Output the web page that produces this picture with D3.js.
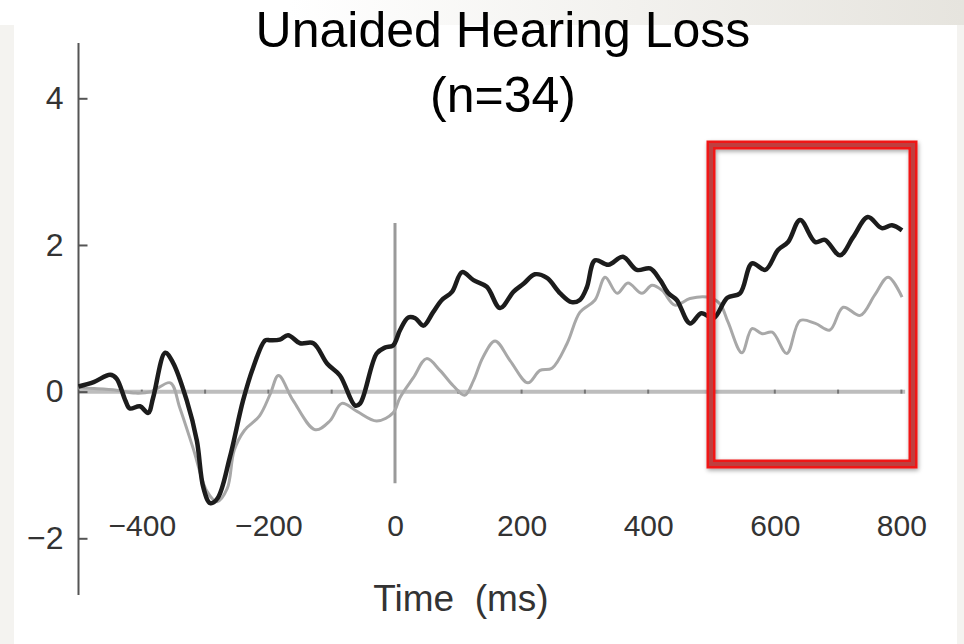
<!DOCTYPE html>
<html>
<head>
<meta charset="utf-8">
<script src="https://cdn.jsdelivr.net/npm/d3@7"></script>
<style>
  html, body { margin: 0; padding: 0; background: #fff; }
  svg { display: block; }
  text { font-family: "Liberation Sans", Arial, Helvetica, sans-serif; }
</style>
</head>
<body>
<svg id="chart" width="964" height="644"></svg>
<script>
// ---------- data ----------
const titleLines = ["Unaided Hearing Loss", "(n=34)"];
const xLabel = "Time  (ms)";
const xTickValues = [-400, -200, 0, 200, 400, 600, 800];
const xMinorTicks = [-400, -300, -200, -100, 0, 100, 200, 300, 400, 500, 600, 700, 800];
const yTickValues = [-2, 0, 2, 4];

// black (thick) waveform: time (ms) and amplitude
const blackTimes = [-500,-476,-450,-440,-426,-419,-403,-390,-382,-363,-351,-329,-313,-303,-292,-280,-261,-240,-224,-205,-197,-182,-169,-150,-129,-107,-87,-63,-55,-29,-16,-3,8,21,32,45,60,74,90,106,124,145,166,187,203,221,240,261,279,292,303,316,337,360,382,403,419,432,445,466,484,503,525,545,564,585,605,621,640,664,679,703,724,747,769,785,801];
const blackValues = [0.07,0.13,0.23,0.18,-0.12,-0.23,-0.2,-0.29,-0.08,0.53,0.40,-0.12,-0.67,-1.3,-1.52,-1.45,-0.9,-0.12,0.33,0.70,0.70,0.71,0.77,0.66,0.66,0.38,0.22,-0.19,-0.16,0.52,0.60,0.63,0.84,1.01,1.0,0.9,1.08,1.25,1.36,1.63,1.52,1.43,1.14,1.36,1.47,1.60,1.55,1.34,1.22,1.25,1.42,1.79,1.73,1.84,1.66,1.68,1.52,1.34,1.25,0.93,1.07,1.0,1.28,1.34,1.75,1.66,1.93,2.04,2.34,2.04,2.07,1.86,2.11,2.38,2.23,2.27,2.2];

// gray (thin) waveform
const grayTimes = [-500,-470,-440,-410,-385,-355,-340,-319,-297,-281,-265,-254,-238,-214,-197,-184,-161,-126,-103,-84,-60,-29,-3,8,29,50,71,92,110,124,139,158,182,210,229,248,272,292,316,332,351,368,390,406,422,442,466,493,513,526,548,564,580,596,619,640,664,687,708,735,758,779,801];
const grayValues = [0.05,0.04,0.02,-0.02,0.0,0.12,-0.22,-0.77,-1.36,-1.5,-1.32,-0.8,-0.53,-0.33,-0.03,0.22,-0.12,-0.52,-0.40,-0.16,-0.27,-0.4,-0.29,-0.08,0.19,0.45,0.29,0.08,-0.05,0.15,0.47,0.69,0.42,0.12,0.29,0.32,0.66,1.08,1.25,1.56,1.34,1.48,1.34,1.45,1.38,1.18,1.27,1.29,1.2,0.95,0.53,0.86,0.79,0.81,0.52,0.97,0.93,0.84,1.15,1.04,1.32,1.56,1.29];

// highlighted window (ms / amplitude)
const highlightWindow = [500, 830];

// ---------- drawing ----------
const svg = d3.select("#chart");
const W = 964, H = 644;

// slide background
const defs = svg.append("defs");
const grad = defs.append("linearGradient").attr("id", "topband").attr("x1", "0").attr("x2", "1");
grad.append("stop").attr("offset", "0.3").attr("stop-color", "#ffffff");
grad.append("stop").attr("offset", "1").attr("stop-color", "#e6e4de");
const shadow = defs.append("filter").attr("id", "shadow").attr("x", "-10%").attr("y", "-10%").attr("width", "120%").attr("height", "120%");
shadow.append("feDropShadow").attr("dx", 1).attr("dy", 2).attr("stdDeviation", 2).attr("flood-color", "#000").attr("flood-opacity", 0.35);

svg.append("rect").attr("x", 0).attr("y", 0).attr("width", W).attr("height", H).attr("fill", "#f4f3f0");
svg.append("rect").attr("x", 0).attr("y", 0).attr("width", W).attr("height", 25).attr("fill", "url(#topband)");
svg.append("rect").attr("x", 14).attr("y", 25).attr("width", 943).attr("height", H - 25).attr("fill", "#ffffff");

const x = d3.scaleLinear().domain([-500, 800]).range([78.5, 901.4]);
const y = d3.scaleLinear().domain([-2, 4]).range([538.3, 98.3]);

// title
svg.append("text").attr("x", 503).attr("y", 47).attr("text-anchor", "middle")
  .attr("font-size", 50).attr("fill", "#000").text(titleLines[0]);
svg.append("text").attr("x", 503).attr("y", 112).attr("text-anchor", "middle")
  .attr("font-size", 50).attr("fill", "#000").text(titleLines[1]);

// zero line (x axis)
svg.append("line")
  .attr("x1", x(-500)).attr("x2", x(806))
  .attr("y1", y(0)).attr("y2", y(0))
  .attr("stroke", "#bdbdbd").attr("stroke-width", 4);
svg.append("g").selectAll("line").data(xMinorTicks).join("line")
  .attr("x1", d => x(d)).attr("x2", d => x(d))
  .attr("y1", y(0) - 2).attr("y2", y(0) + 2)
  .attr("stroke", "#777").attr("stroke-width", 2);

// vertical line at time 0
svg.append("line")
  .attr("x1", x(0)).attr("x2", x(0))
  .attr("y1", y(2.3)).attr("y2", y(-1.25))
  .attr("stroke", "#9a9a9a").attr("stroke-width", 3);

// y axis
svg.append("line")
  .attr("x1", x(-500)).attr("x2", x(-500))
  .attr("y1", 43).attr("y2", 595)
  .attr("stroke", "#555").attr("stroke-width", 2);
const yAxis = d3.axisLeft(y).tickValues(yTickValues).tickSizeInner(-9).tickSizeOuter(0).tickPadding(15)
  .tickFormat(d => d < 0 ? "\u2212" + Math.abs(d) : d);
const gy = svg.append("g").attr("transform", `translate(${x(-500)},0)`).call(yAxis);
gy.select(".domain").remove();
gy.selectAll(".tick line").attr("stroke", "#555").attr("stroke-width", 2);
gy.selectAll(".tick text").attr("font-size", 32).attr("fill", "#333")
  .attr("font-family", "'Liberation Sans', Arial, sans-serif");

// x tick labels (placed near bottom, as in the original figure)
const xAxis = d3.axisBottom(x).tickValues(xTickValues).tickSize(0).tickPadding(0)
  .tickFormat(d => d < 0 ? "\u2212" + Math.abs(d) : d);
const gx = svg.append("g").attr("transform", "translate(0,515)").call(xAxis);
gx.select(".domain").remove();
gx.selectAll(".tick text").attr("font-size", 30).attr("fill", "#333")
  .attr("font-family", "'Liberation Sans', Arial, sans-serif");

// x axis title
svg.append("text").attr("x", 461).attr("y", 611).attr("text-anchor", "middle")
  .attr("font-size", 37).attr("fill", "#333").attr("xml:space", "preserve")
  .style("white-space", "pre").text(xLabel);

// waveforms
const line = d3.line().x(d => x(d[0])).y(d => y(d[1])).curve(d3.curveCatmullRom.alpha(0.5));
const grayData = grayTimes.map((t, i) => [t, grayValues[i]]);
const blackData = blackTimes.map((t, i) => [t, blackValues[i]]);

svg.append("path").datum(grayData).attr("d", line)
  .attr("fill", "none").attr("stroke", "#a8a8a8").attr("stroke-width", 3)
  .attr("stroke-linejoin", "round");
svg.append("path").datum(blackData).attr("d", line)
  .attr("fill", "none").attr("stroke", "#1c1c1c").attr("stroke-width", 4.5)
  .attr("stroke-linejoin", "round");

// red highlight box
const bx = 711, by = 145, bw = 202, bh = 319;
svg.append("rect").attr("x", bx).attr("y", by).attr("width", bw).attr("height", bh)
  .attr("fill", "none").attr("stroke", "#f01515").attr("stroke-width", 9)
  .attr("filter", "url(#shadow)");
svg.append("rect").attr("x", bx).attr("y", by).attr("width", bw).attr("height", bh)
  .attr("fill", "none").attr("stroke", "#bf3f3f").attr("stroke-width", 4);
</script>
</body>
</html>
